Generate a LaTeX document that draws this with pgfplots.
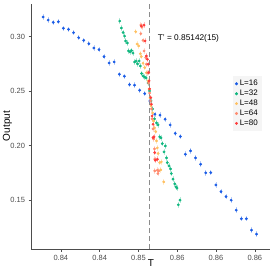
\documentclass[border=0pt]{standalone}
\usepackage{fontspec}
\setmainfont{Liberation Sans}
\usepackage{pgfplots}
\pgfplotsset{compat=1.18}
\definecolor{cA}{HTML}{1A5CE6}
\definecolor{cB}{HTML}{10B77F}
\definecolor{cC}{HTML}{FFC060}
\definecolor{cD}{HTML}{FF8C70}
\definecolor{cE}{HTML}{FF3B3B}
\definecolor{axgray}{HTML}{4D4D4D}
\pgfplotsset{
  ser/.style={only marks, mark=*, mark size=1.2pt, color=#1,
    error bars/.cd, y dir=both, y fixed=0.0025, x dir=both, x fixed=0.00012,
    error mark=none, error bar style={line width=0.7pt, opacity=0.3}}
}
\begin{document}
\begin{tikzpicture}[x=1pt,y=1pt]
\begin{axis}[
  name=ax,
  at={(40,22)}, anchor=south west,
  scale only axis, width=239pt, height=245pt,
  xmin=0.83616, xmax=0.86696, ymin=0.105, ymax=0.330,
  axis lines*=left,
  axis line style={axgray, line width=0.6pt, -},
  tick style={axgray, line width=0.5pt},
  tick align=outside, major tick length=2.5pt,
  xtick={0.84,0.845,0.85,0.855,0.86,0.865},
  xticklabels={0.84,0.84,0.85,0.86,0.86,0.86},
  ytick={0.15,0.2,0.25,0.3},
  yticklabels={0.15,0.20,0.25,0.30},
  tick label style={font=\fontsize{7.5}{8}\selectfont, text=axgray},
  legend style={at={(0.845,0.706)}, anchor=north west, fill=black!4, draw=none,
    font=\fontsize{8}{9}\selectfont, row sep=-1.2pt, inner sep=2pt},
  legend cell align=left,
  legend image code/.code={\draw[mark=*, mark size=1.3pt, only marks] plot coordinates {(0.15cm,0cm)};},
]
% L=16
\addplot[ser=cA] coordinates {
(0.83771,0.3181) (0.83837,0.3153) (0.83902,0.3132) (0.83968,0.3138) (0.84033,0.3077)
(0.84099,0.3068) (0.84164,0.3037) (0.84230,0.2991) (0.84295,0.2967) (0.84361,0.2936)
(0.84426,0.2896) (0.84492,0.2881) (0.84557,0.2817) (0.84623,0.2759) (0.84688,0.2768)
(0.84754,0.2655) (0.84819,0.2637) (0.84885,0.2560) (0.84950,0.2555) (0.85016,0.2508)
(0.85081,0.2477) (0.85147,0.2410) (0.85212,0.2288) (0.85278,0.2279) (0.85343,0.2242)
(0.85409,0.2190) (0.85474,0.2112) (0.85540,0.2084) (0.85605,0.1921) (0.85671,0.1951)
(0.85736,0.1887) (0.85802,0.1829) (0.85867,0.1750) (0.85933,0.1752) (0.85998,0.1639)
(0.86064,0.1578) (0.86129,0.1532) (0.86195,0.1499) (0.86260,0.1407) (0.86326,0.1328)
(0.86391,0.1328) (0.86457,0.1224) (0.86522,0.1187)
};
\addlegendentry{L=16}
% L=32
\addplot[ser=cB] coordinates {
(0.84759,0.3144) (0.84780,0.3080) (0.84802,0.3039) (0.84821,0.3006) (0.84834,0.2961)
(0.84857,0.2942) (0.84872,0.2869) (0.84892,0.2860) (0.84911,0.2873) (0.84930,0.2850)
(0.84950,0.2768) (0.84969,0.2777) (0.84988,0.2750) (0.85008,0.2777) (0.85024,0.2731)
(0.85040,0.2662) (0.85059,0.2639) (0.85079,0.2630) (0.85098,0.2621) (0.85124,0.2575)
(0.85143,0.2502) (0.85162,0.2410) (0.85182,0.2337) (0.85207,0.2245) (0.85233,0.2208)
(0.85253,0.2190) (0.85274,0.2080) (0.85291,0.2071) (0.85308,0.2018) (0.85330,0.1942)
(0.85347,0.1997) (0.85362,0.1887) (0.85372,0.1844) (0.85394,0.1814) (0.85414,0.1786)
(0.85424,0.1743) (0.85446,0.1692) (0.85468,0.1649) (0.85485,0.1621) (0.85497,0.1609)
(0.85514,0.1456) (0.85536,0.1499)
};
\addlegendentry{L=32}
% L=48
\addplot[ser=cC] coordinates {
(0.84965,0.3046) (0.84982,0.2933) (0.85004,0.2915) (0.85024,0.2844) (0.85037,0.2817)
(0.85059,0.2756) (0.85081,0.2716) (0.85102,0.2670) (0.85124,0.2594) (0.85137,0.2520)
(0.85149,0.2438) (0.85162,0.2364) (0.85182,0.2300) (0.85195,0.2227) (0.85207,0.2162)
(0.85223,0.2128) (0.85233,0.2043) (0.85244,0.1979) (0.85253,0.1927) (0.85274,0.1844)
(0.85295,0.1850) (0.85287,0.1777) (0.85326,0.1667)
};
\addlegendentry{L=48}
% L=64
\addplot[ser=cD] coordinates {
(0.85031,0.3107) (0.85046,0.3089) (0.85031,0.3028) (0.85059,0.2967) (0.85072,0.2869)
(0.85094,0.2807) (0.85102,0.2747) (0.85117,0.2667) (0.85130,0.2575) (0.85143,0.2483)
(0.85156,0.2410) (0.85169,0.2337) (0.85175,0.2245) (0.85188,0.2153) (0.85195,0.2061)
(0.85207,0.1970) (0.85210,0.1875) (0.85244,0.1774) (0.85210,0.1768) (0.85262,0.1768)
(0.85251,0.1743)
};
\addlegendentry{L=64}
% L=80
\addplot[ser=cE] coordinates {
(0.85037,0.3098) (0.85072,0.3107) (0.85085,0.2961) (0.85102,0.2823) (0.85115,0.2793)
(0.85124,0.2747) (0.85133,0.2670) (0.85137,0.2594) (0.85143,0.2520) (0.85159,0.2440)
(0.85166,0.2380) (0.85175,0.2272) (0.85188,0.2196) (0.85188,0.2073) (0.85201,0.2080)
(0.85210,0.1936) (0.85218,0.1866) (0.85244,0.1875)
};
\addlegendentry{L=80}
\addplot[forget plot, color=black!45, line width=1.3pt, dash pattern=on 5pt off 3pt] coordinates {(0.85142,0.105) (0.85142,0.330)};
\node[anchor=west, font=\fontsize{8.3}{10}\selectfont] at (axis cs:0.85205,0.2988) {T' = 0.85142(15)};
\end{axis}
\node[rotate=90, font=\fontsize{10}{11}\selectfont, anchor=center] at (7.5,147) {Output};
\node[font=\fontsize{10}{11}\selectfont, anchor=center] at (151,9.5) {T};
\pgfresetboundingbox
\path[use as bounding box] (0,0) rectangle (273,273);
\end{tikzpicture}
\end{document}
